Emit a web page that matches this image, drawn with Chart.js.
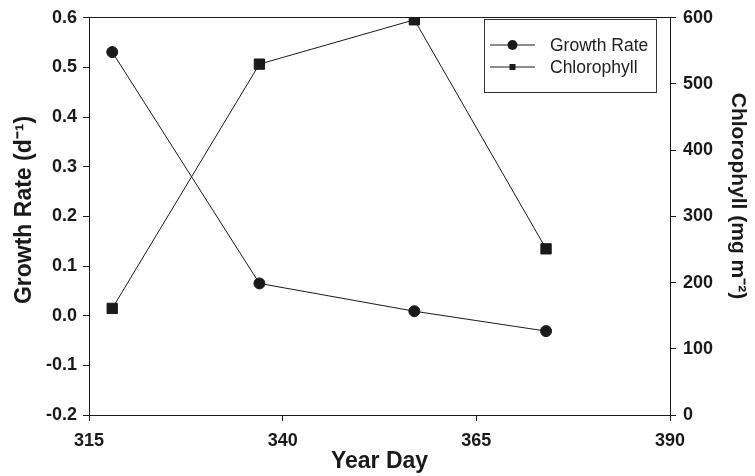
<!DOCTYPE html>
<html>
<head>
<meta charset="utf-8">
<script src="https://cdn.jsdelivr.net/npm/chart.js@4"></script>
<style>
  html, body { margin: 0; padding: 0; background: #fff; }
  #wrap { width: 755px; height: 476px; }
</style>
</head>
<body>
<div id="wrap"><canvas id="chart" width="755" height="476"></canvas></div>
<script>
// Data
const yearDays = [318, 337, 357, 374];
const growthRate = [0.531, 0.065, 0.009, -0.031];
const chlorophyll = [161, 530, 597, 251];

const xTicks = [315, 340, 365, 390];
const leftTicks = [-0.2, -0.1, 0.0, 0.1, 0.2, 0.3, 0.4, 0.5, 0.6];
const rightTicks = [0, 100, 200, 300, 400, 500, 600];

const INK = "#1a1a1a";
const FONT = "'Liberation Sans', Arial, sans-serif";
const NBSP = "\u00A0";

// Legend: line with marker, inside a box
const legendBox = {
    id: "legendBox",
    afterDraw(chart) {
        const ctx = chart.ctx;
        const x0 = 484, y0 = 19, w = 172, h = 73;
        ctx.save();
        ctx.strokeStyle = "#333";
        ctx.lineWidth = 1;
        ctx.strokeRect(x0 + 0.5, y0 + 0.5, w, h);
        const rows = [
            { label: "Growth Rate", y: 45, style: "circle" },
            { label: "Chlorophyll", y: 67, style: "rect" }
        ];
        rows.forEach(r => {
            ctx.beginPath();
            ctx.moveTo(490, r.y);
            ctx.lineTo(535, r.y);
            ctx.strokeStyle = INK;
            ctx.lineWidth = 1;
            ctx.stroke();
            ctx.fillStyle = INK;
            if (r.style === "circle") {
                ctx.beginPath();
                ctx.arc(512.5, r.y, 5, 0, Math.PI * 2);
                ctx.fill();
            } else {
                ctx.fillRect(509.5, r.y - 3, 6, 6);
            }
            ctx.font = "17.5px " + FONT;
            ctx.textBaseline = "middle";
            ctx.fillStyle = "#222";
            ctx.fillText(r.label, 550, r.y + 1);
        });
        ctx.restore();
    }
};

new Chart(document.getElementById("chart"), {
    type: "line",
    data: {
        datasets: [
            {
                label: "Growth Rate",
                data: yearDays.map((d, i) => ({ x: d, y: growthRate[i] })),
                yAxisID: "y",
                borderColor: INK,
                borderWidth: 1,
                pointStyle: "circle",
                pointRadius: 5.5,
                pointBackgroundColor: INK,
                pointBorderColor: INK,
                tension: 0
            },
            {
                label: "Chlorophyll",
                data: yearDays.map((d, i) => ({ x: d, y: chlorophyll[i] })),
                yAxisID: "y1",
                borderColor: INK,
                borderWidth: 1,
                pointStyle: "rect",
                pointRadius: 7.3,
                pointBackgroundColor: INK,
                pointBorderColor: INK,
                tension: 0
            }
        ]
    },
    options: {
        responsive: false,
        animation: false,
        layout: { padding: 0 },
        plugins: { legend: { display: false }, tooltip: { enabled: false } },
        scales: {
            x: {
                type: "linear",
                position: "bottom",
                min: 315, max: 390,
                afterBuildTicks: s => { s.ticks = xTicks.map(v => ({ value: v })); },
                afterFit: s => { s.height = 61; },
                grid: { drawOnChartArea: false, tickLength: 6, color: INK },
                border: { display: true, color: INK, width: 1 },
                ticks: { padding: 9, color: INK, font: { family: FONT, size: 18, weight: "bold" } },
                title: {
                    display: true, text: "Year Day", color: INK, padding: { top: 0, bottom: 1 },
                    font: { family: FONT, size: 23, weight: "bold" }
                }
            },
            xTop: {
                type: "linear",
                position: "top",
                min: 315, max: 390,
                afterFit: s => { s.height = 13.5; },
                grid: { display: false },
                border: { display: true, color: INK, width: 1 },
                ticks: { display: false }
            },
            y: {
                type: "linear",
                position: "left",
                min: -0.2, max: 0.6,
                afterBuildTicks: s => { s.ticks = leftTicks.map(v => ({ value: v })); },
                afterFit: s => { s.width = 89; },
                grid: { drawOnChartArea: false, tickLength: 6, color: INK },
                border: { display: true, color: INK, width: 1 },
                ticks: {
                    padding: 6, color: INK,
                    font: { family: FONT, size: 18, weight: "bold" },
                    callback: v => v.toFixed(1)
                },
                title: {
                    display: true, text: NBSP + NBSP + "Growth Rate (d\u207B\u00B9)", color: INK,
                    padding: { top: 11, bottom: 0 },
                    font: { family: FONT, size: 23, weight: "bold" }
                }
            },
            y1: {
                type: "linear",
                position: "right",
                min: 0, max: 600,
                afterBuildTicks: s => { s.ticks = rightTicks.map(v => ({ value: v })); },
                afterFit: s => { s.width = 85; },
                grid: { drawOnChartArea: false, tickLength: 6, color: INK },
                border: { display: true, color: INK, width: 1 },
                ticks: { padding: 7, color: INK, font: { family: FONT, size: 18, weight: "bold" } },
                title: {
                    display: true, text: "Chlorophyll (mg m\u207B\u00B2)" + NBSP.repeat(7), color: INK,
                    padding: { top: 5, bottom: 0 },
                    font: { family: FONT, size: 21, weight: "bold" }
                }
            }
        }
    },
    plugins: [legendBox]
});
</script>
</body>
</html>
